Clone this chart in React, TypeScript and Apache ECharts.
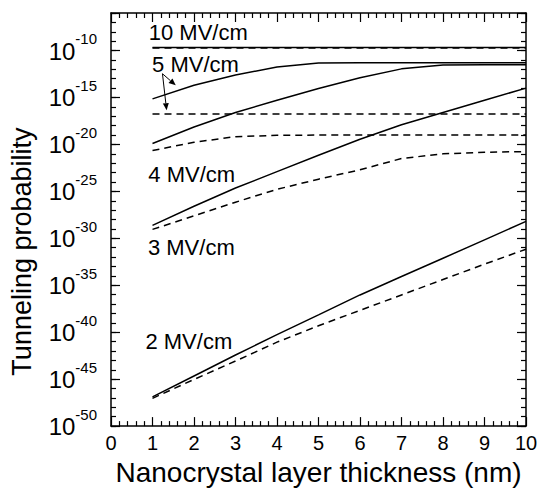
import React, { useEffect, useRef } from "react";
import * as echarts from "echarts";

// thickness (nm)
const thickness = [1, 2, 3, 4, 5, 6, 7, 8, 9, 10];
// log10(tunneling probability), solid and dashed for each field
const solid10 = [-9.68, -9.68, -9.68, -9.68, -9.68, -9.68, -9.68, -9.68, -9.68, -9.68];
const dashed10 = [-9.72, -9.72, -9.72, -9.72, -9.72, -9.72, -9.72, -9.72, -9.72, -9.72];
const solid5 = [-15.15, -13.7, -12.6, -11.76, -11.33, -11.3, -11.3, -11.3, -11.3, -11.3];
const dashed5 = [-16.75, -16.75, -16.75, -16.75, -16.75, -16.75, -16.75, -16.75, -16.75, -16.75];
const solid4 = [-19.9, -18.15, -16.6, -15.3, -14.05, -12.9, -11.95, -11.55, -11.5, -11.5];
const dashed4 = [-20.65, -19.77, -19.17, -19.03, -19.0, -19.0, -19.0, -19.0, -19.0, -19.0];
const solid3 = [-28.62, -26.58, -24.64, -22.9, -21.15, -19.45, -17.9, -16.6, -15.3, -14.0];
const dashed3 = [-29.05, -27.6, -26.15, -24.78, -23.7, -22.7, -21.5, -21.0, -20.83, -20.76];
const solid2 = [-46.88, -44.66, -42.43, -40.26, -38.15, -36.03, -34.07, -32.12, -30.16, -28.2];
const dashed2 = [-47.04, -45.03, -43.07, -41.06, -39.31, -37.67, -36.03, -34.39, -32.75, -31.16];

const yMin = -50;
const yMax = -6;

// annotation labels (data coordinates)
const labelTexts = ["10 MV/cm", "5 MV/cm", "4 MV/cm", "3 MV/cm", "2 MV/cm"];
const labelX = [0.91, 0.99, 0.9, 0.89, 0.83];
const labelY = [-8.1, -11.53, -23.17, -30.95, -40.95];
const arrowStart = [1.24, -12.47];
const arrowEnds = [
  [1.56, -13.7],
  [1.34, -16.35],
];

const FONT = '"Liberation Sans", Arial, Helvetica, sans-serif';

export default function App() {
  const ref = useRef<HTMLDivElement>(null);
  useEffect(() => {
    document.body.style.margin = "0";
    const chart = echarts.init(ref.current!, null, { renderer: "svg" });
    const mk = (name: string, vals: number[], dashed: boolean) => ({
      name,
      type: "line",
      xAxisIndex: 0,
      yAxisIndex: 0,
      data: thickness.map((t, i) => [t, vals[i]]),
      showSymbol: false,
      symbol: "none",
      lineStyle: { color: "#000", width: 1.5, type: dashed ? [7, 5] : "solid" },
      z: 3,
    });
    const tickColor = "#000";
    const baseX = {
      type: "value",
      min: 0,
      max: 10,
      interval: 1,
      axisLine: { show: true, lineStyle: { color: "#000", width: 1.5 } },
      axisTick: { show: true, inside: true, length: 9, lineStyle: { color: tickColor, width: 1.2 } },
      minorTick: { show: true, splitNumber: 5, length: 5, lineStyle: { color: tickColor, width: 1.2 } },
      splitLine: { show: false },
      minorSplitLine: { show: false },
    };
    const baseY = (interval: number, len: number, pos: string, labels: boolean, line: boolean) => ({
      type: "value",
      min: yMin,
      max: yMax,
      interval,
      position: pos,
      axisLine: { show: line, lineStyle: { color: "#000", width: 1.5 } },
      axisTick: { show: true, inside: true, length: len, lineStyle: { color: tickColor, width: 1.2 } },
      splitLine: { show: false },
      axisLabel: labels
        ? {
            show: true,
            margin: 14,
            padding: [0, 0, 7, 0],
            formatter: (v: number) => (v % 5 === 0 ? `{b|10}{s|${v}}` : ""),
            rich: {
              b: { fontSize: 24, fontFamily: FONT, color: "#000", lineHeight: 32, verticalAlign: "bottom" },
              s: { fontSize: 15, fontFamily: FONT, color: "#000", lineHeight: 14, verticalAlign: "top" },
            },
          }
        : { show: false },
    });
    chart.setOption({
      animation: false,
      backgroundColor: "#fff",
      grid: { left: 110, right: 24, top: 13, bottom: 63, containLabel: false },
      xAxis: [
        {
          ...baseX,
          position: "bottom",
          name: "Nanocrystal layer thickness (nm)",
          nameLocation: "middle",
          nameGap: 30,
          nameTextStyle: { fontSize: 28, fontFamily: FONT, color: "#000" },
          axisLabel: { show: true, margin: 7, fontSize: 20, fontFamily: FONT, color: "#000" },
        },
        { ...baseX, position: "top", axisLabel: { show: false } },
      ],
      yAxis: [
        {
          ...baseY(1, 5, "left", true, true),
          name: "Tunneling probability",
          nameLocation: "middle",
          nameGap: 76,
          nameTextStyle: { fontSize: 27, fontFamily: FONT, color: "#000", padding: [0, 64, 0, 0] },
        },
        baseY(5, 9, "left", false, false),
        baseY(1, 5, "right", false, true),
        baseY(5, 9, "right", false, false),
      ],
      series: [
        mk("10 MV/cm solid", solid10, false),
        mk("10 MV/cm dashed", dashed10, true),
        mk("5 MV/cm solid", solid5, false),
        mk("5 MV/cm dashed", dashed5, true),
        mk("4 MV/cm solid", solid4, false),
        mk("4 MV/cm dashed", dashed4, true),
        mk("3 MV/cm solid", solid3, false),
        mk("3 MV/cm dashed", dashed3, true),
        mk("2 MV/cm solid", solid2, false),
        mk("2 MV/cm dashed", dashed2, true),
      ],
    });

    const px = (p: number[]) => chart.convertToPixel({ xAxisIndex: 0, yAxisIndex: 0 }, p) as number[];
    const graphics: any[] = [];
    labelTexts.forEach((t, i) => {
      const [x, y] = px([labelX[i], labelY[i]]);
      graphics.push({
        type: "text",
        x,
        y,
        style: {
          text: t,
          font: `22px ${FONT}`,
          fill: "#000",
          align: "left",
          verticalAlign: "middle",
          textAlign: "left",
          textVerticalAlign: "middle",
        },
        z: 10,
      });
    });
    const s = px(arrowStart);
    arrowEnds.forEach((e) => {
      const ep = px(e);
      const dx = ep[0] - s[0];
      const dy = ep[1] - s[1];
      const len = Math.sqrt(dx * dx + dy * dy);
      const ux = dx / len;
      const uy = dy / len;
      const hl = 7;
      const hw = 3;
      const bx = ep[0] - ux * hl;
      const by = ep[1] - uy * hl;
      graphics.push({
        type: "line",
        shape: { x1: s[0], y1: s[1], x2: bx, y2: by },
        style: { stroke: "#000", lineWidth: 1 },
        z: 10,
      });
      graphics.push({
        type: "polygon",
        shape: {
          points: [
            [ep[0], ep[1]],
            [bx - uy * hw, by + ux * hw],
            [bx + uy * hw, by - ux * hw],
          ],
        },
        style: { fill: "#000" },
        z: 10,
      });
    });
    chart.setOption({ graphic: graphics });
    return () => chart.dispose();
  }, []);
  return <div ref={ref} style={{ width: 550, height: 491 }} />;
}
